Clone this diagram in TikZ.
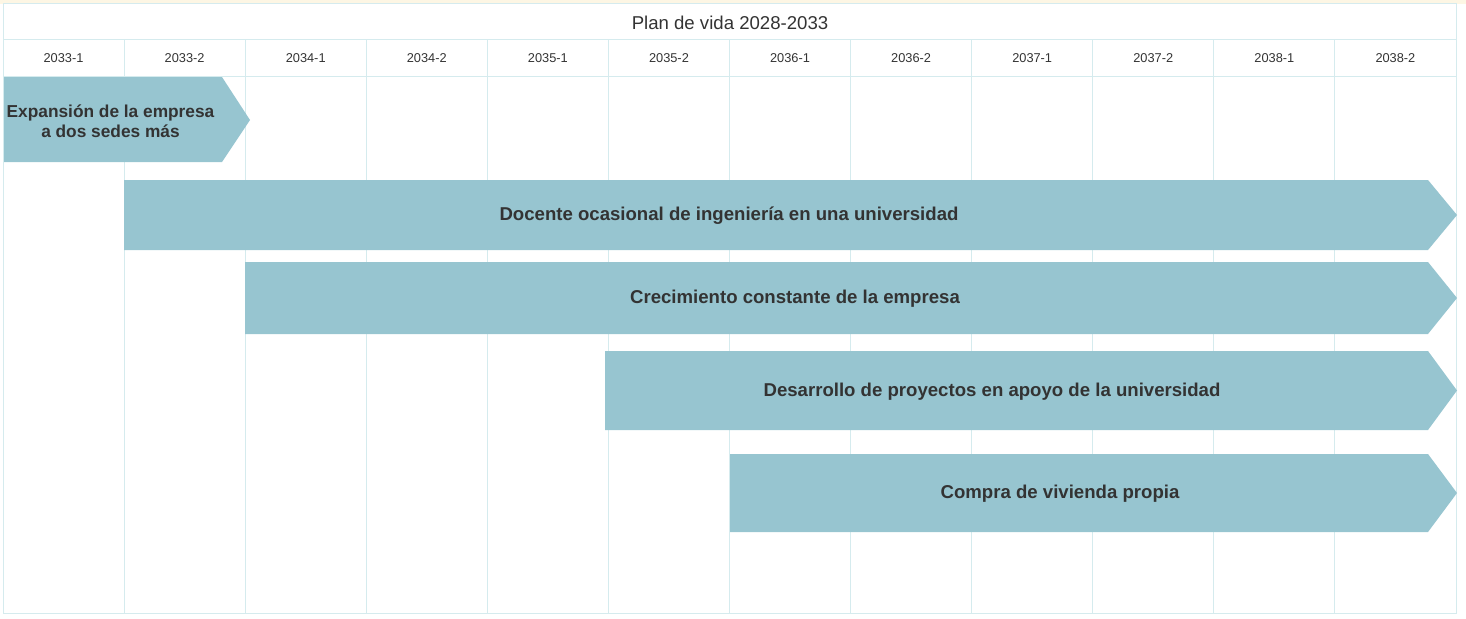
\documentclass[tikz,border=0pt]{standalone}
\usepackage{fontspec}
\setmainfont{Liberation Sans}
\usepackage{xcolor}
\definecolor{barblue}{HTML}{97C5D0}
\definecolor{gridcyan}{HTML}{D5EBEE}
\definecolor{inkgray}{HTML}{333333}
\definecolor{topband}{HTML}{FDF6E4}
\usetikzlibrary{positioning}

\tikzset{
  bar/.style={fill=barblue},
  barlabel/.style={font=\fontsize{18.6}{20.5}\selectfont\bfseries,text=inkgray,align=center,inner sep=0pt},
  period/.style={font=\fontsize{12.8}{14}\selectfont,text=inkgray,inner sep=0pt},
}

\begin{document}
\begin{tikzpicture}[x=1pt,y=-1pt]
    \useasboundingbox (0,0) rectangle (1466,618);
    \fill[topband] (0,0) rectangle (1466,4);
    % grid of periods
    \draw[gridcyan,line width=1pt] (3,4) rectangle (1456,613);
    \draw[gridcyan,line width=1pt] (3,40) -- (1456,40) (3,76) -- (1456,76);
    \foreach \i in {1,...,11}
      \draw[gridcyan,line width=1pt] ({3+121.08*\i},40) -- ({3+121.08*\i},613);
    \node[font=\fontsize{18.6}{20}\selectfont,text=inkgray,inner sep=0pt] (title) at (730,22.5) {Plan de vida 2028-2033};
    \foreach \lab [count=\i from 0] in {2033-1,2033-2,2034-1,2034-2,2035-1,2035-2,2036-1,2036-2,2037-1,2037-2,2038-1,2038-2}
      \node[period] (p\i) at ({3+121.08*(\i+0.5)},58.5) {\lab};
    % bars
    \fill[bar] (4,77) -- (222,77) -- (250,120) -- (222,162) -- (4,162) -- cycle;
    \fill[bar] (124,180) -- (1428,180) -- (1457,215) -- (1428,250) -- (124,250) -- cycle;
    \fill[bar] (245,262) -- (1428,262) -- (1457,298) -- (1428,334) -- (245,334) -- cycle;
    \fill[bar] (605,351) -- (1428,351) -- (1457,390.5) -- (1428,430) -- (605,430) -- cycle;
    \fill[bar] (730,454) -- (1428,454) -- (1457,493) -- (1428,532) -- (730,532) -- cycle;
    \node[barlabel,font=\fontsize{17.3}{20}\selectfont\bfseries] (exp) at (110.5,121.5) {Expansión de la empresa\\a dos sedes más};
    \node[barlabel] (doc) at (729,216) {Docente ocasional de ingeniería en una universidad};
    \node[barlabel] (cre) at (795,299) {Crecimiento constante de la empresa};
    \node[barlabel] (des) at (992,392) {Desarrollo de proyectos en apoyo de la universidad};
    \node[barlabel] (com) at (1060,494) {Compra de vivienda propia};
\end{tikzpicture}
\end{document}
